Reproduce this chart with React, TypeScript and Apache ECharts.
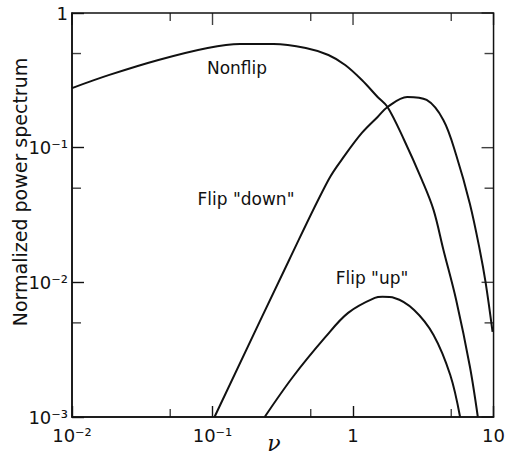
import React, { useEffect, useRef } from "react";
import * as echarts from "echarts";

// Nonflip curve
const nuNonflip = [0.01, 0.01845, 0.0412, 0.0923, 0.157, 0.272, 0.461, 0.668, 0.879, 1.156, 1.496, 1.76, 2.31, 3.09, 3.74, 4.4, 5.42, 6.79, 7.73];
const pNonflip = [0.277, 0.347, 0.448, 0.55, 0.589, 0.589, 0.55, 0.488, 0.411, 0.318, 0.238, 0.2005, 0.114, 0.0576, 0.0345, 0.0174, 0.0074, 0.00236, 0.001];

// Flip "down" curve
const nuDown = [0.1033, 0.351, 0.668, 0.879, 1.156, 1.496, 1.76, 2.43, 3.34, 4.4, 5.42, 6.79, 7.98, 8.79, 9.84];
const pDown = [0.001, 0.01466, 0.0576, 0.0883, 0.1286, 0.169, 0.2005, 0.238, 0.226, 0.16, 0.0883, 0.0382, 0.0174, 0.0099, 0.00428];

// Flip "up" curve
const nuUp = [0.235, 0.374, 0.637, 0.923, 1.43, 1.62, 1.97, 2.72, 3.74, 4.92, 5.78];
const pUp = [0.001, 0.00199, 0.00393, 0.00593, 0.00766, 0.0078, 0.00766, 0.00624, 0.00407, 0.00205, 0.001];

// Axis ranges, tick values and tick labels
const xMin = 0.01;
const xMax = 10;
const yMin = 0.001;
const yMax = 1;
const xMajorTicks = [0.01, 0.1, 1, 10];
const yMajorTicks = [0.001, 0.01, 0.1, 1];
const xMinorTicks = [0.05, 0.5, 5];
const yMinorTicks = [0.5, 0.05, 0.005];
const tickText: Record<string, string> = { "-3": "10⁻³", "-2": "10⁻²", "-1": "10⁻¹", "0": "1", "1": "10" };

const INK = "#111";

function fmt(v: number): string {
  const e = Math.round(Math.log10(v));
  return tickText[String(e)] ?? "";
}

// tick marks drawn as thin rectangles anchored at axis values
function tickSeries(points: number[][], w: number, h: number, ox: number, oy: number) {
  return {
    type: "scatter",
    silent: true,
    clip: false,
    symbol: "rect",
    symbolSize: [w, h],
    symbolOffset: [ox, oy],
    itemStyle: { color: INK },
    data: points,
  };
}

export default function App() {
  const ref = useRef<HTMLDivElement>(null);
  useEffect(() => {
    if (!ref.current) return;
    const chart = echarts.init(ref.current, undefined, { renderer: "svg" });
    const pairs = (xs: number[], ys: number[]) => xs.map((x, i) => [x, ys[i]]);
    const lineStyle = { color: INK, width: 2 };
    const tw = 1.4;
    const majX = 11;
    const majY = 12;
    const minLen = 8;
    const labelStyle = { fontSize: 18, fontFamily: "DejaVu Sans", color: INK };
    const option: any = {
      animation: false,
      grid: { left: 72, right: 7, top: 13, bottom: 40, show: true, borderColor: INK, borderWidth: 1.5, backgroundColor: "transparent" },
      xAxis: {
        type: "log",
        min: xMin,
        max: xMax,
        axisLine: { show: true, lineStyle: { color: INK, width: 1.5 } },
        axisTick: { show: true, inside: true, length: majX, lineStyle: { color: INK, width: tw } },
        splitLine: { show: false },
        axisLabel: { show: true, margin: 9, formatter: fmt, ...labelStyle },
      },
      yAxis: {
        type: "log",
        min: yMin,
        max: yMax,
        axisLine: { show: true, lineStyle: { color: INK, width: 1.5 } },
        axisTick: { show: true, inside: true, length: majY, lineStyle: { color: INK, width: tw } },
        splitLine: { show: false },
        axisLabel: { show: true, margin: 4, formatter: fmt, ...labelStyle },
      },
      series: [
        { type: "line", data: pairs(nuNonflip, pNonflip), smooth: 0.35, symbol: "none", lineStyle },
        { type: "line", data: pairs(nuDown, pDown), smooth: 0.35, symbol: "none", lineStyle },
        { type: "line", data: pairs(nuUp, pUp), smooth: 0.35, symbol: "none", lineStyle },
        // minor ticks at bottom and left
        tickSeries(xMinorTicks.map((v) => [v, yMin]), tw, minLen, 0, -minLen / 2),
        tickSeries(yMinorTicks.map((v) => [xMin, v]), minLen + 1, tw, (minLen + 1) / 2, 0),
        // mirrored ticks at top and right
        tickSeries(xMajorTicks.map((v) => [v, yMax]), tw, majY, 0, majY / 2),
        tickSeries(xMinorTicks.map((v) => [v, yMax]), tw, minLen, 0, minLen / 2),
        tickSeries(yMajorTicks.map((v) => [xMax, v]), majY, tw, -majY / 2, 0),
        tickSeries(yMinorTicks.map((v) => [xMax, v]), minLen + 1, tw, -(minLen + 1) / 2, 0),
      ],
      graphic: [
        { type: "text", x: 237, y: 68, style: { text: "Nonflip", font: "17px 'DejaVu Sans'", fill: INK, textAlign: "center", textVerticalAlign: "middle" } },
        { type: "text", x: 246, y: 199, style: { text: 'Flip "down"', font: "17px 'DejaVu Sans'", fill: INK, textAlign: "center", textVerticalAlign: "middle" } },
        { type: "text", x: 372, y: 278, style: { text: 'Flip "up"', font: "17px 'DejaVu Sans'", fill: INK, textAlign: "center", textVerticalAlign: "middle" } },
        {
          type: "text",
          x: 20,
          y: 192,
          rotation: Math.PI / 2,
          style: { text: "Normalized power spectrum", font: "19px 'DejaVu Sans'", fill: INK, textAlign: "center", textVerticalAlign: "middle" },
        },
        { type: "text", x: 274, y: 443, style: { text: "ν", font: "italic 22px 'DejaVu Serif'", fill: INK, textAlign: "center", textVerticalAlign: "middle" } },
      ],
    };
    chart.setOption(option);
    return () => chart.dispose();
  }, []);
  return <div ref={ref} style={{ width: 508, height: 457, position: "absolute", left: 0, top: 0 }} />;
}
